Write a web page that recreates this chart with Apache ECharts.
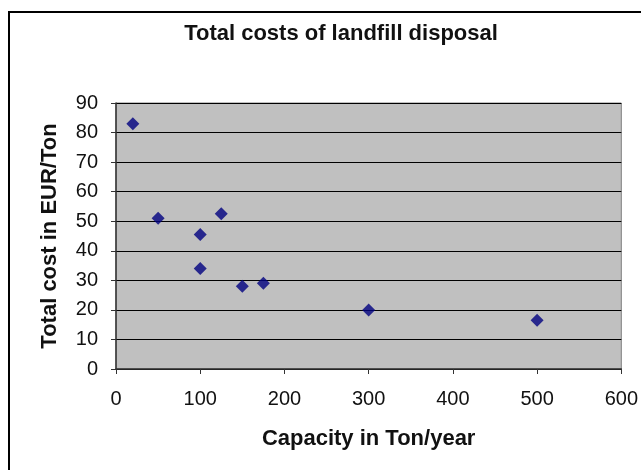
<!DOCTYPE html>
<html>
<head>
<meta charset="utf-8">
<script src="https://cdn.jsdelivr.net/npm/echarts@6/dist/echarts.min.js"></script>
<style>html,body{margin:0;padding:0;background:#fff}#c{width:641px;height:470px}</style>
</head>
<body>
<div id="c"></div>
<script>
var capacity = [20, 50, 125, 100, 100, 150, 175, 300, 500];
var totalCost = [83, 51, 52.5, 45.5, 34, 28, 29, 20, 16.5];
var xTicks = [0, 100, 200, 300, 400, 500, 600];
var yTicks = [0, 10, 20, 30, 40, 50, 60, 70, 80, 90];

var points = capacity.map(function (x, i) { return [x, totalCost[i]]; });
var font = '"Liberation Sans", Arial, sans-serif';
var chart = echarts.init(document.getElementById('c'), null, {renderer: 'canvas'});
chart.setOption({
  animation: false,
  backgroundColor: '#fff',
  title: {
    text: 'Total costs of landfill disposal',
    left: 336, top: 18, textAlign: 'center',
    textStyle: {fontFamily: font, fontSize: 22, fontWeight: 'bold', color: '#111'}
  },
  graphic: [{
    type: 'rect', shape: {x: 9, y: 12, width: 660, height: 480},
    style: {fill: 'none', stroke: '#000', lineWidth: 2}, silent: true, z: -1
  }],
  grid: {left: 116, top: 103, right: 19, bottom: 101, show: true,
         backgroundColor: '#c0c0c0', borderColor: '#808080', borderWidth: 1},
  xAxis: {
    type: 'value', min: xTicks[0], max: xTicks[xTicks.length - 1], interval: 100,
    name: 'Capacity in Ton/year', nameLocation: 'middle', nameGap: 59,
    nameTextStyle: {fontFamily: font, fontSize: 22, fontWeight: 'bold', color: '#111'},
    axisLine: {show: true, lineStyle: {color: '#333', width: 1.5}},
    axisTick: {show: true, length: 5, lineStyle: {color: '#333'}},
    axisLabel: {fontFamily: font, fontSize: 20, color: '#111', margin: 20},
    splitLine: {show: false}
  },
  yAxis: {
    type: 'value', min: yTicks[0], max: yTicks[yTicks.length - 1], interval: 10,
    name: 'Total cost in EUR/Ton', nameLocation: 'middle', nameGap: 55,
    nameTextStyle: {fontFamily: font, fontSize: 22, fontWeight: 'bold', color: '#111'},
    axisLine: {show: true, lineStyle: {color: '#333', width: 1.5}},
    axisTick: {show: true, length: 5, lineStyle: {color: '#333'}},
    axisLabel: {fontFamily: font, fontSize: 20, color: '#111', margin: 18},
    splitLine: {show: true, lineStyle: {color: '#000', width: 1}}
  },
  series: [{
    type: 'scatter', data: points, symbol: 'diamond', symbolSize: 13,
    itemStyle: {color: '#000080'}
  }]
});
</script>
</body>
</html>
